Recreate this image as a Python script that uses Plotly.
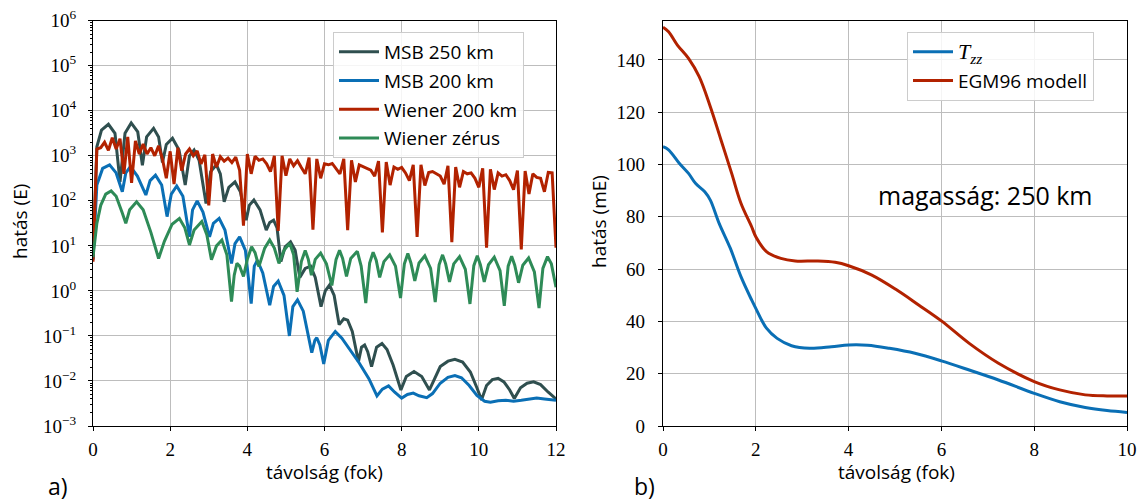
import numpy as np
import plotly.graph_objects as go

W, H = 1137, 503

# ---------------- panel a) data (log10 of effect, E) ----------------
msb250_x = [0.0, 0.1, 0.22, 0.4, 0.57, 0.7, 0.83, 0.99, 1.16, 1.28, 1.39, 1.57, 1.70, 1.80, 1.90, 2.06,
            2.23, 2.39, 2.5, 2.62, 2.75, 2.93, 3.05, 3.2, 3.3, 3.40, 3.52, 3.68, 3.82, 3.97, 4.05, 4.17,
            4.33, 4.49, 4.58, 4.68, 4.77, 4.87, 4.98, 5.12, 5.24, 5.36, 5.5, 5.64, 5.76, 5.91, 6.02, 6.13,
            6.25, 6.38, 6.5, 6.6, 6.72, 6.88, 6.96, 7.04, 7.12, 7.22, 7.35, 7.49, 7.62, 7.78, 7.98, 8.12,
            8.32, 8.52, 8.72, 8.82, 9.0, 9.2, 9.38, 9.58, 9.78, 9.95, 10.07, 10.2, 10.35, 10.5, 10.65, 10.8,
            10.92, 11.08, 11.25, 11.42, 11.6, 11.8, 12.0]
msb250_log = [0.7, 3.2, 3.57, 3.70, 3.5, 2.42, 3.5, 3.73, 3.53, 2.79, 3.42, 3.61, 3.42, 2.85, 3.25, 3.39,
              3.13, 2.35, 3.0, 3.13, 2.9, 1.94, 2.65, 2.8, 2.6, 1.98, 2.3, 2.42, 2.2, 1.57, 1.9, 2.02,
              1.8, 1.35, 1.52, 1.57, 1.4, 0.65, 0.98, 1.09, 0.9, 0.3, 0.5, 0.55, 0.3, -0.35, 0.0, 0.13,
              -0.1, -0.75, -0.62, -0.65, -0.9, -1.57, -1.25, -1.2, -1.35, -1.68, -1.25, -1.17, -1.3, -1.65, -2.2, -1.9,
              -1.79, -1.9, -2.2, -2.0, -1.68, -1.56, -1.52, -1.58, -1.8, -2.15, -2.42, -2.1, -1.97, -1.94, -2.02, -2.2,
              -2.39, -2.15, -2.05, -2.02, -2.08, -2.25, -2.4]

msb200_x = [0.0, 0.1, 0.25, 0.43, 0.6, 0.76, 0.85, 0.97, 1.15, 1.37, 1.48, 1.62, 1.78, 1.92, 2.03, 2.17,
            2.33, 2.5, 2.58, 2.7, 2.85, 3.02, 3.12, 3.27, 3.42, 3.59, 3.68, 3.8, 3.95, 4.1, 4.18, 4.26,
            4.4, 4.58, 4.68, 4.8, 4.95, 5.09, 5.18, 5.3, 5.45, 5.67, 5.75, 5.8, 5.88, 5.98, 6.1, 6.28,
            6.45, 6.65, 6.9, 7.15, 7.36, 7.5, 7.66, 7.82, 8.0, 8.15, 8.3, 8.45, 8.65, 8.8, 9.0, 9.2,
            9.38, 9.55, 9.75, 9.95, 10.15, 10.3, 10.5, 10.7, 10.9, 11.1, 11.3, 11.5, 11.7, 12.0]
msb200_log = [0.7, 2.35, 2.72, 2.8, 2.62, 2.2, 2.62, 2.76, 2.55, 2.13, 2.45, 2.57, 2.35, 1.65, 2.15, 2.33,
              2.1, 1.2, 1.8, 2.0, 1.75, 1.2, 1.5, 1.61, 1.35, 0.61, 1.05, 1.2, 0.9, -0.28, 0.55, 0.68,
              0.4, -0.32, 0.1, 0.22, -0.1, -1.0, -0.35, -0.2, -0.45, -1.37, -1.1, -1.04, -1.2, -1.62, -1.1, -0.9,
              -1.05, -1.3, -1.6, -1.95, -2.33, -2.18, -2.11, -2.25, -2.38, -2.3, -2.27, -2.33, -2.37, -2.28, -2.05, -1.92,
              -1.88, -1.93, -2.1, -2.32, -2.45, -2.47, -2.44, -2.43, -2.45, -2.43, -2.4, -2.38, -2.4, -2.43]

wiener200_x = [round(0.1 * i, 1) for i in range(121)]
wiener200_log = [0.65, 3.15, 3.18, 3.3, 3.12, 3.4, 3.15, 3.38, 2.6, 3.42,
                 2.4, 3.33, 3.04, 3.26, 3.04, 3.18, 3.0, 3.22, 2.93, 2.5,
                 3.1, 2.37, 3.18, 2.67, 3.04, 3.15, 3.0, 3.11, 2.82, 3.02,
                 1.9, 3.04, 2.75, 2.98, 2.88, 2.95, 2.85, 2.97, 2.68, 1.45,
                 3.04, 2.6, 2.99, 2.9, 2.93, 2.82, 2.65, 3.0, 1.33, 3.0,
                 2.56, 2.93, 2.78, 2.89, 2.74, 2.6, 2.96, 1.36, 2.93, 2.5,
                 2.82, 2.8, 2.83, 2.7, 2.6, 2.93, 1.35, 2.9, 2.42, 2.8,
                 2.76, 2.72, 2.68, 2.55, 2.88, 1.3, 2.86, 2.35, 2.75, 2.7,
                 2.74, 2.62, 2.45, 2.8, 1.2, 2.8, 2.34, 2.63, 2.65, 2.6,
                 2.55, 2.37, 2.78, 1.08, 2.75, 2.3, 2.65, 2.6, 2.62, 2.5,
                 2.3, 2.72, 0.96, 2.7, 2.25, 2.62, 2.55, 2.58, 2.45, 2.25,
                 2.67, 0.92, 2.66, 2.15, 2.6, 2.52, 2.5, 2.2, 2.63, 2.62,
                 0.96]

wienerzero_x = [0.0, 0.1, 0.2, 0.33, 0.47, 0.6, 0.75, 0.85, 0.95, 1.13, 1.3, 1.5, 1.7, 1.85, 2.05, 2.24,
                2.38, 2.5, 2.62, 2.82, 2.95, 3.07, 3.2, 3.34, 3.47, 3.59, 3.66, 3.73, 3.8, 3.9, 4.0, 4.11,
                4.2, 4.3, 4.45, 4.58, 4.7, 4.82, 4.95, 5.1, 5.2, 5.29,
                5.4, 5.5, 5.58, 5.66, 5.76, 5.9, 6.05, 6.19,
                6.3, 6.39, 6.47, 6.57, 6.68, 6.85, 6.95, 7.07,
                7.17, 7.26, 7.34, 7.43, 7.54, 7.69, 7.84, 7.97,
                8.07, 8.16, 8.24, 8.34, 8.45, 8.6, 8.75, 8.87,
                8.97, 9.06, 9.14, 9.24, 9.35, 9.5, 9.65, 9.77,
                9.87, 9.96, 10.04, 10.14, 10.25, 10.4, 10.55, 10.66,
                10.76, 10.85, 10.93, 11.03, 11.14, 11.29, 11.44, 11.56,
                11.66, 11.78, 11.88, 12.0]
wienerzero_log = [0.75, 1.5, 1.9, 2.15, 2.22, 2.1, 1.75, 1.5, 1.8, 1.98, 1.8, 1.3, 0.72, 1.1, 1.48, 1.61,
                  1.4, 1.02, 1.35, 1.54, 1.25, 0.69, 1.0, 1.13, 0.8, -0.24, 0.35, 0.61, 0.55, 0.32, 0.7, 0.98,
                  0.85, 0.54, 0.95, 1.13, 0.95, 0.61, 0.9, 1.06, 0.8, -0.02,
                  0.65, 0.9, 0.7, 0.35, 0.7, 0.84, 0.6, 0.12,
                  0.7, 0.9, 0.72, 0.32, 0.72, 0.88, 0.55, -0.27,
                  0.62, 0.86, 0.68, 0.3, 0.65, 0.8, 0.55, -0.16,
                  0.6, 0.83, 0.62, 0.22, 0.62, 0.78, 0.5, -0.25,
                  0.58, 0.8, 0.6, 0.2, 0.6, 0.76, 0.48, -0.29,
                  0.56, 0.78, 0.58, 0.2, 0.58, 0.75, 0.45, -0.33,
                  0.55, 0.77, 0.57, 0.18, 0.57, 0.73, 0.42, -0.38,
                  0.5, 0.76, 0.6, 0.08]

# ---------------- panel b) data (mE) ----------------
egm_x = [0.0, 0.12, 0.31, 0.55, 0.78, 1.02, 1.25, 1.48, 1.68, 1.91, 2.0, 2.23, 2.54, 2.85, 3.32, 3.71,
         4.0, 4.49, 5.04, 5.51, 6.0, 6.6, 7.23, 8.0, 8.55, 9.1, 9.57, 10.0]
egm_y = [152.5, 150.8, 145.7, 140.6, 133.6, 122.1, 109.4, 96.6, 85.2, 76.2, 72.4, 66.7, 64.1, 63.1, 63.1, 62.6,
         61.3, 57.8, 52.0, 46.3, 40.2, 31.6, 24.0, 17.0, 13.8, 11.9, 11.5, 11.5]
tzz_x = [0.0, 0.12, 0.35, 0.55, 0.7, 0.9, 1.02, 1.21, 1.45, 1.68, 1.91, 2.0, 2.23, 2.46, 2.77, 3.16,
         3.63, 4.0, 4.41, 4.88, 5.43, 6.0, 6.6, 7.23, 8.0, 8.55, 9.1, 9.57, 10.0]
tzz_y = [106.8, 105.6, 100.5, 96.6, 92.8, 89.6, 86.4, 77.5, 68.0, 57.1, 48.2, 45.0, 37.4, 33.5, 30.7, 29.7,
         30.3, 31.0, 30.9, 29.7, 27.8, 24.9, 21.4, 17.6, 12.5, 9.3, 7.1, 5.9, 5.2]

left_xticks = [0, 2, 4, 6, 8, 10, 12]
left_yexp = [-3, -2, -1, 0, 1, 2, 3, 4, 5, 6]
right_xticks = [0, 2, 4, 6, 8, 10]
right_yticks = [0, 20, 40, 60, 80, 100, 120, 140]

# ---------------- styles ----------------
C_DARK = "#2f4f4f"
C_BLUE = "#0a6fb5"
C_RED = "#b22200"
C_GREEN = "#2e8b57"
SANS = "Open Sans"
SERIF = "Liberation Serif"
LW = 3

def px(v):
    return v / W

def py(v):
    return 1 - v / H

fig = go.Figure()

def add_left(x, logv, name, color, grp):
    fig.add_trace(go.Scatter(
        x=x, y=np.power(10.0, np.array(logv)), mode="lines", name=name,
        line=dict(color=color, width=LW), xaxis="x", yaxis="y",
        legend="legend", legendgroup=grp))

add_left(msb250_x, msb250_log, "MSB 250 km", C_DARK, "a1")
add_left(msb200_x, msb200_log, "MSB 200 km", C_BLUE, "a2")
add_left(wiener200_x, wiener200_log, "Wiener 200 km", C_RED, "a3")
add_left(wienerzero_x, wienerzero_log, "Wiener zérus", C_GREEN, "a4")

fig.add_trace(go.Scatter(
    x=tzz_x, y=tzz_y, mode="lines",
    name="<span style=\"font-family:'Liberation Serif';font-size:22px\"><i>T</i><sub><i>zz</i></sub></span>",
    line=dict(color=C_BLUE, width=LW, shape="spline", smoothing=1.0),
    xaxis="x2", yaxis="y2", legend="legend2", legendgroup="b1"))
fig.add_trace(go.Scatter(
    x=egm_x, y=egm_y, mode="lines", name="EGM96 modell",
    line=dict(color=C_RED, width=LW, shape="spline", smoothing=1.0),
    xaxis="x2", yaxis="y2", legend="legend2", legendgroup="b2"))

axis_common = dict(
    showline=True, linecolor="black", linewidth=1.3, mirror=True,
    showgrid=True, gridcolor="#bdbdbd", gridwidth=1.4,
    ticks="outside", ticklen=4, tickwidth=1.2, tickcolor="black",
    tickfont=dict(family=SERIF, size=19, color="black"),
    zeroline=False, automargin=False,
)

left_dom_x = [px(93), px(556)]
right_dom_x = [px(663), px(1127)]
dom_y = [py(426), py(20.7)]

fig.update_layout(
    width=W, height=H,
    margin=dict(l=0, r=0, t=0, b=0, autoexpand=False),
    paper_bgcolor="white", plot_bgcolor="white",
    showlegend=True,
    xaxis=dict(domain=left_dom_x, anchor="y", range=[0, 12],
               tickvals=left_xticks, ticktext=[str(v) for v in left_xticks],
               ticklabelstandoff=2, **axis_common),
    yaxis=dict(domain=dom_y, anchor="x", type="log", range=[-3, 6],
               tickvals=[10.0 ** e for e in left_yexp],
               ticktext=["10<sup>%s</sup>" % (str(e).replace("-", "\u2212")) for e in left_yexp],
               ticklabelstandoff=8,
               minor=dict(ticks="outside", ticklen=2, tickwidth=1, tickcolor="black",
                          dtick="D1", showgrid=False),
               **axis_common),
    xaxis2=dict(domain=right_dom_x, anchor="y2", range=[0, 10],
                tickvals=right_xticks, ticktext=[str(v) for v in right_xticks],
                ticklabelstandoff=2, **axis_common),
    yaxis2=dict(domain=dom_y, anchor="x2", range=[0, 155],
                tickvals=right_yticks, ticktext=[str(v) for v in right_yticks],
                ticklabelstandoff=9, **axis_common),
    legend=dict(x=px(333), y=py(32), xanchor="left", yanchor="top",
                bgcolor="rgba(255,255,255,0.85)", bordercolor="#cccccc", borderwidth=1,
                font=dict(family=SANS, size=19, color="black"),
                traceorder="grouped", tracegroupgap=1, itemwidth=40),
    legend2=dict(x=px(907), y=py(32), xanchor="left", yanchor="top",
                 bgcolor="rgba(255,255,255,0.85)", bordercolor="#cccccc", borderwidth=1,
                 font=dict(family=SANS, size=19, color="black"),
                 traceorder="grouped", tracegroupgap=1, itemwidth=40),
)

annots = [
    dict(text="hatás (E)", x=px(20), y=py(222), textangle=-90, size=19),
    dict(text="hatás (mE)", x=px(599), y=py(222), textangle=-90, size=19),
    dict(text="távolság (fok)", x=px(324), y=py(472), textangle=0, size=19),
    dict(text="távolság (fok)", x=px(896), y=py(472), textangle=0, size=19),
    dict(text="magasság: 250 km", x=px(985), y=py(195), textangle=0, size=25),
]
for a in annots:
    fig.add_annotation(text=a["text"], x=a["x"], y=a["y"], xref="paper", yref="paper",
                       xanchor="center", yanchor="middle", showarrow=False,
                       textangle=a["textangle"],
                       font=dict(family=SANS, size=a["size"], color="black"))

for lab, xl in (("a)", 46), ("b)", 632)):
    fig.add_annotation(text=lab, x=px(xl), y=py(486), xref="paper", yref="paper",
                       xanchor="left", yanchor="middle", showarrow=False,
                       font=dict(family=SANS, size=23, color="black"))

fig.write_html("out.html", config={"displayModeBar": False},
               post_script="document.body.style.margin='0px';document.body.style.overflow='hidden';")
